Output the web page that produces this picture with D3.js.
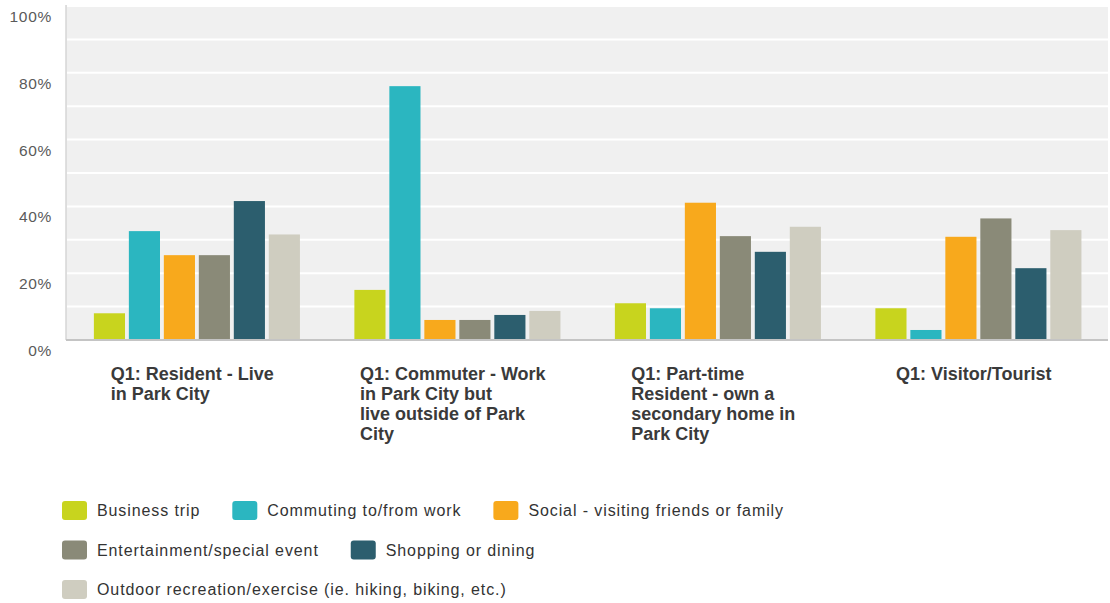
<!DOCTYPE html>
<html>
<head>
<meta charset="utf-8">
<script src="https://cdn.jsdelivr.net/npm/d3@7"></script>
<style>
  html, body { margin: 0; padding: 0; background: #ffffff; }
  svg { display: block; }
  text { font-family: "Liberation Sans", Arial, sans-serif; }
</style>
</head>
<body>
<svg id="chart" width="1110" height="603"></svg>
<script>
// ---- data ----
const categories = [
  "Q1: Resident - Live in Park City",
  "Q1: Commuter - Work in Park City but live outside of Park City",
  "Q1: Part-time Resident - own a secondary home in Park City",
  "Q1: Visitor/Tourist"
];
const categoryLines = [
  ["Q1: Resident - Live", "in Park City"],
  ["Q1: Commuter - Work", "in Park City but", "live outside of Park", "City"],
  ["Q1: Part-time", "Resident - own a", "secondary home in", "Park City"],
  ["Q1: Visitor/Tourist"]
];
const seriesNames = [
  "Business trip",
  "Commuting to/from work",
  "Social - visiting friends or family",
  "Entertainment/special event",
  "Shopping or dining",
  "Outdoor recreation/exercise (ie. hiking, biking, etc.)"
];
const businessTrip   = [8.0, 15.0, 11.0, 9.5];
const commuting      = [32.6, 76.0, 9.5, 3.0];
const social         = [25.4, 6.0, 41.1, 30.9];
const entertainment  = [25.4, 6.0, 31.1, 36.4];
const shopping       = [41.6, 7.5, 26.4, 21.5];
const outdoor        = [31.6, 8.7, 33.9, 32.9];
const seriesValues = [businessTrip, commuting, social, entertainment, shopping, outdoor];
const yTicks = [0, 20, 40, 60, 80, 100];
const gridTicks = [10, 20, 30, 40, 50, 60, 70, 80, 90, 100];

// ---- style / layout ----
const colors = ["#c8d41e", "#2bb6c0", "#f8a91c", "#8a8a78", "#2c5e6e", "#cfcdc0"];
const plot = { left: 66, right: 1108, top: 5, bottom: 340 };

const svg = d3.select("#chart");

const x0 = d3.scaleBand().domain(categories).range([plot.left, plot.right]).padding(0);
const bw = x0.bandwidth();
const x1 = d3.scaleBand().domain(seriesNames).range([bw * 0.107, bw * 0.898]).paddingInner(0.11).paddingOuter(0);
const y = d3.scaleLinear().domain([0, 100]).range([plot.bottom, 6]);

// background
svg.append("rect")
  .attr("x", plot.left).attr("y", plot.top)
  .attr("width", plot.right - plot.left).attr("height", plot.bottom - plot.top)
  .attr("fill", "#f0f0f0");

// gridlines
svg.append("g").selectAll("line").data(gridTicks).join("line")
  .attr("x1", plot.left + 1).attr("x2", plot.right)
  .attr("y1", d => y(d)).attr("y2", d => y(d))
  .attr("stroke", "#ffffff").attr("stroke-width", 2);

// left axis line
svg.append("line")
  .attr("x1", plot.left).attr("x2", plot.left)
  .attr("y1", plot.top).attr("y2", plot.bottom)
  .attr("stroke", "#d6d6d6").attr("stroke-width", 1.5);

// y axis labels
const yAxis = d3.axisLeft(y).tickValues(yTicks).tickFormat(d => d + "%").tickSize(0).tickPadding(0);
const yg = svg.append("g").attr("transform", `translate(${plot.left - 14},0)`).call(yAxis);
yg.select(".domain").remove();
yg.selectAll("text")
  .attr("dy", "1.0em")
  .attr("fill", "#5a5a5a")
  .style("font-size", "15.5px")
  .style("letter-spacing", "0.7px")
  .style("font-family", "'Liberation Sans', Arial, sans-serif");

// bars
const groups = svg.append("g").selectAll("g").data(categories).join("g")
  .attr("transform", d => `translate(${x0(d)},0)`);
groups.selectAll("rect")
  .data((c, ci) => seriesNames.map((s, si) => ({ s, si, v: seriesValues[si][ci] })))
  .join("rect")
  .attr("x", d => x1(d.s))
  .attr("width", x1.bandwidth())
  .attr("y", d => y(d.v))
  .attr("height", d => y(0) - y(d.v))
  .attr("fill", d => colors[d.si]);

// baseline
svg.append("line")
  .attr("x1", plot.left).attr("x2", plot.right)
  .attr("y1", plot.bottom).attr("y2", plot.bottom)
  .attr("stroke", "#c4c4c4").attr("stroke-width", 2);

// category labels (x axis)
const labelG = svg.append("g");
categories.forEach((c, ci) => {
  const t = labelG.append("text")
    .attr("fill", "#3a3a3a")
    .style("font-size", "18px")
    .style("font-weight", "bold");
  const lines = categoryLines[ci];
  const spans = lines.map((ln, li) => t.append("tspan").attr("y", 379.5 + li * 20).text(ln));
  let maxW = 0;
  spans.forEach(s => { maxW = Math.max(maxW, s.node().getComputedTextLength()); });
  const cx = x0(c) + bw / 2;
  spans.forEach(s => s.attr("x", cx - maxW / 2 - 4));
});

// legend (flow layout)
const legend = svg.append("g");
const legendLeft = 62, legendMaxX = 900, rowStart = 501, rowGap = 39.5;
let lx = legendLeft, row = 0;
seriesNames.forEach((s, si) => {
  const tmp = legend.append("text")
    .attr("fill", "#333")
    .style("font-size", "16px")
    .style("letter-spacing", "0.9px")
    .text(s);
  const tw = tmp.node().getComputedTextLength();
  const itemW = 25 + 10 + tw;
  if (lx > legendLeft && lx + itemW > legendMaxX) { row++; lx = legendLeft; }
  const ty = rowStart + row * rowGap;
  legend.append("rect")
    .attr("x", lx).attr("y", ty).attr("width", 25).attr("height", 19)
    .attr("rx", 3).attr("fill", colors[si]);
  tmp.attr("x", lx + 35).attr("y", ty + 15);
  lx += itemW + 32;
});
</script>
</body>
</html>
